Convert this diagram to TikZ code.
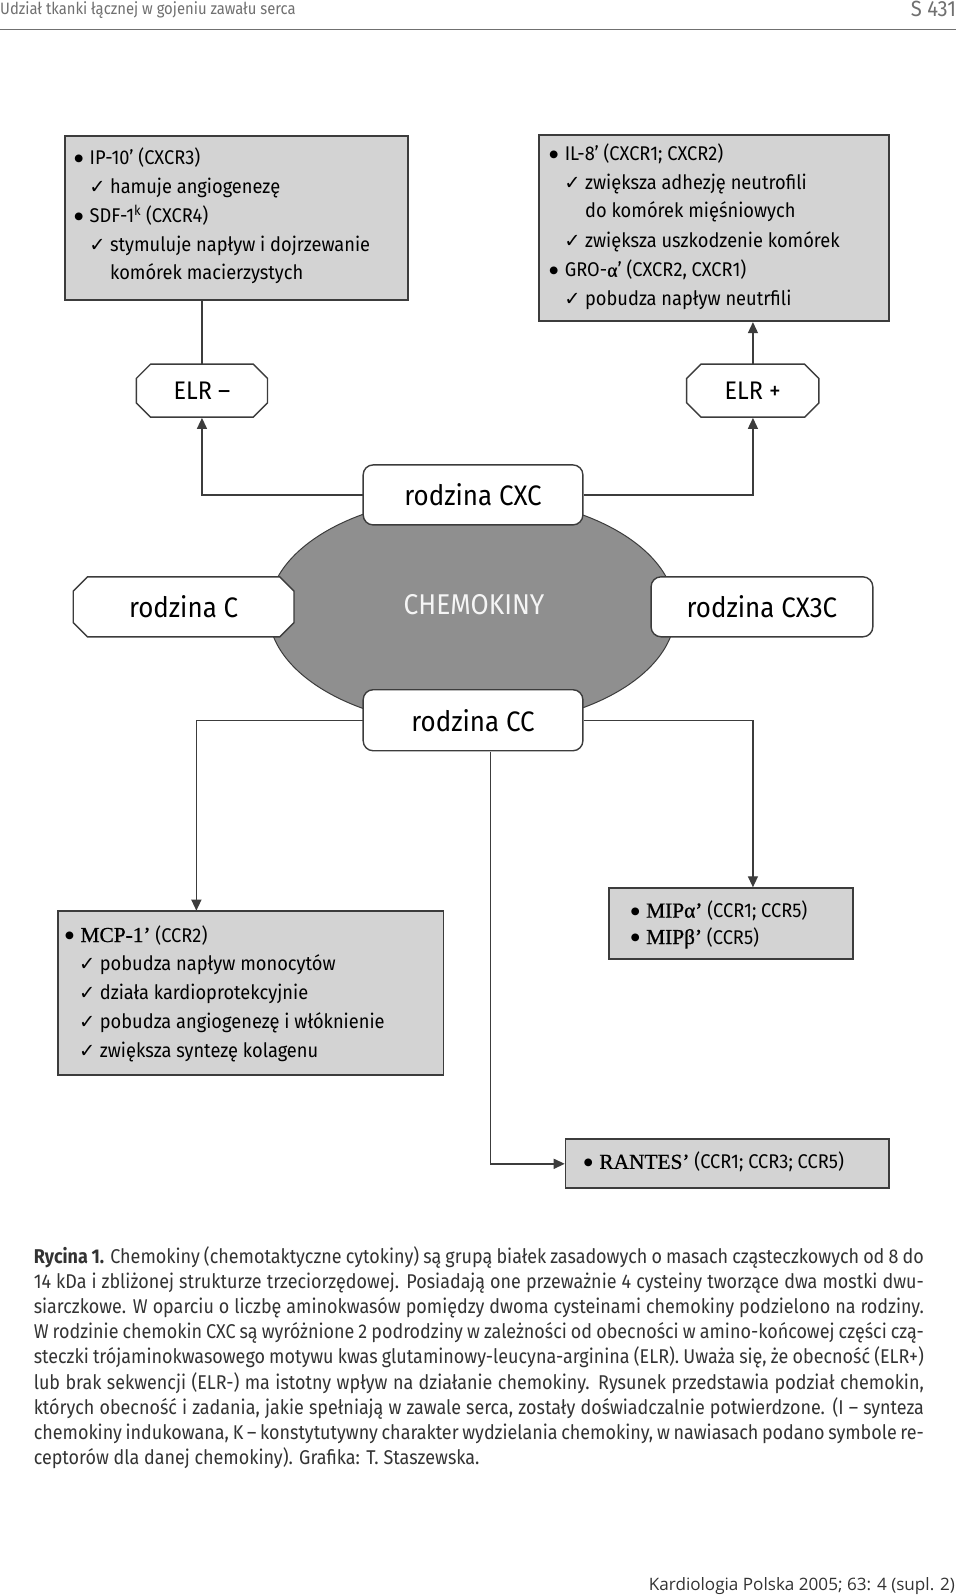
\documentclass[tikz,border=0pt]{standalone}
\usepackage{fontspec}
\setmainfont{Fira Sans}
\newfontfamily\boxf[FakeStretch=0.92]{Fira Sans}
\newfontfamily\capf[FakeStretch=0.9]{Fira Sans}
\newfontfamily\serf[FakeBold=0.8]{Liberation Serif}
\newfontfamily\symf{DejaVu Sans}
\newfontfamily\footf{Open Sans}
\usetikzlibrary{shapes.misc,shapes.geometric,arrows.meta}
\definecolor{boxgray}{HTML}{D3D3D3}
\definecolor{edgec}{HTML}{3C3C3C}
\definecolor{ellgray}{HTML}{8F8F8F}
\definecolor{hdrc}{HTML}{707070}
\definecolor{capc}{HTML}{333333}
\newcommand\sertxt[1]{{\serf\fontsize{21}{24}\selectfont #1}}
\newcommand\bitem[4]{%
  \node[txt,anchor=base east,font=\symf\fontsize{10}{12}\selectfont] (#1-b) at (#2-6,#3-3) {●};
  \node[txt] (#1) at (#2,#3) {#4};}
\newcommand\citem[4]{%
  \node[txt,anchor=base east,font=\symf\fontsize{19}{20}\selectfont] (#1-c) at (#2-4,#3) {✓};
  \node[txt] (#1) at (#2,#3) {#4};}
\newcommand\pitem[4]{\node[txt] (#1) at (#2,#3) {#4};}
\newcommand\capline[3]{\node[captxt] (#1) at (33,#2) {\makebox[875pt][s]{#3}};}
\begin{document}
\begin{tikzpicture}[x=1pt,y=-1pt,scale=1.01727,transform shape,
  txt/.style={anchor=base west,inner sep=0,font=\boxf\fontsize{19.5}{24}\selectfont,text=black},
  captxt/.style={anchor=base west,inner sep=0,font=\capf\fontsize{19.6}{22}\selectfont,text=capc},
  infobox/.style={draw=edgec,fill=boxgray,line width=1.6pt,inner sep=0,anchor=north west},
  famround/.style={draw=edgec,fill=white,line width=1.4pt,rounded corners=10pt,inner sep=0,
     font=\boxf\fontsize{27.7}{32}\selectfont},
  famcham/.style={chamfered rectangle,chamfered rectangle xsep=7pt,chamfered rectangle ysep=7pt,
     draw=edgec,fill=white,line width=1.4pt,inner sep=0,font=\boxf\fontsize{27.7}{32}\selectfont},
  conn/.style={draw=edgec,line width=1.4pt},
  arr/.style={conn,-{Triangle[length=11pt,width=10pt]}}]
\useasboundingbox (0,0) rectangle (943.7,1568.9);
\fill[white] (0,0) rectangle (943.7,1568.9);
% header
\node[anchor=base west,inner sep=0,text=hdrc,font=\capf\fontsize{16.2}{20}\selectfont] (hdr) at (0,14) {Udział tkanki łącznej w gojeniu zawału serca};
\node[anchor=base east,inner sep=0,text=hdrc,font=\boxf\fontsize{21.6}{24}\selectfont] (pg) at (940,16) {S 431};
\coordinate (rl) at (0,29); \coordinate (rr) at (940,29);
\draw[hdrc,line width=1.5pt] (rl) -- (rr);
% top boxes
\node[infobox,minimum width=337pt,minimum height=161pt] (tl) at (63,133) {};
\node[infobox,minimum width=344pt,minimum height=183pt] (tr) at (529,132) {};
\bitem{tl1}{88}{162}{IP-10’ (CXCR3)}
\citem{tl2}{108}{190}{hamuje angiogenezę}
\bitem{tl3}{88}{219}{SDF-1\textsuperscript{k} (CXCR4)}
\citem{tl4}{108}{247}{stymuluje napływ i dojrzewanie}
\pitem{tl5}{108}{275}{komórek macierzystych}
\bitem{tr1}{555}{158}{IL-8’ (CXCR1; CXCR2)}
\citem{tr2}{575}{186}{zwiększa adhezję neutrofili}
\pitem{tr3}{575}{214}{do komórek mięśniowych}
\citem{tr4}{575}{243}{zwiększa uszkodzenie komórek}
\bitem{tr5}{555}{272}{GRO-{\serf α}’ (CXCR2, CXCR1)}
\citem{tr6}{575}{300}{pobudza napływ neutrfili}
% ELR boxes
\node[famcham,minimum width=129pt,minimum height=52pt,font=\boxf\fontsize{25}{30}\selectfont] (elrm) at (198.5,384) {ELR –};
\node[famcham,minimum width=130pt,minimum height=52pt,font=\boxf\fontsize{25}{30}\selectfont] (elrp) at (740,384) {ELR +};
% ellipse
\node[ellipse,draw=edgec,fill=ellgray,line width=1pt,minimum width=400pt,minimum height=226pt,inner sep=0] (ell) at (464,601) {};
\node[inner sep=0,text=white!92!gray,font=\boxf\fontsize{28.1}{32}\selectfont] (chem) at (466,594) {CHEMOKINY};
% family boxes
\node[famround,minimum width=216pt,minimum height=59pt] (cxc) at (465,486.5) {rodzina CXC};
\node[famcham,minimum width=217pt,minimum height=59pt] (fc) at (180.5,596.5) {rodzina C};
\node[famround,minimum width=218pt,minimum height=59pt] (cx3c) at (749,596.5) {rodzina CX3C};
\node[famround,minimum width=216pt,minimum height=60pt] (cc) at (465,708) {rodzina CC};
% bottom boxes
\node[infobox,minimum width=379pt,minimum height=161pt] (mcp) at (56,895) {};
\node[infobox,minimum width=240pt,minimum height=70pt] (mip) at (598,872) {};
\node[infobox,minimum width=318pt,minimum height=48pt] (ran) at (555,1119) {};
\bitem{mc1}{79}{926}{\sertxt{MCP-1’} (CCR2)}
\citem{mc2}{98}{954}{pobudza napływ monocytów}
\citem{mc3}{98}{983}{działa kardioprotekcyjnie}
\citem{mc4}{98}{1011}{pobudza angiogenezę i włóknienie}
\citem{mc5}{98}{1040}{zwiększa syntezę kolagenu}
\bitem{mi1}{635}{902}{\sertxt{MIPα’} (CCR1; CCR5)}
\bitem{mi2}{635}{928}{\sertxt{MIPβ’} (CCR5)}
\bitem{ra1}{589}{1149}{\sertxt{RANTES’} (CCR1; CCR3; CCR5)}
% connectors
\coordinate (mcpin) at (193,0);
\coordinate (rin) at (482,0);
\draw[conn] (elrm.north) -- (elrm.north |- tl.south);
\draw[arr] (elrp.north) -- (elrp.north |- tr.south);
\draw[arr] (cxc.west) -| (elrm.south);
\draw[arr] (cxc.east) -| (elrp.south);
\draw[arr] (cc.west) -| (mcpin |- mcp.north);
\draw[arr] (cc.east) -| (elrp.south |- mip.north);
\draw[arr] (rin |- cc.south) |- (ran.west);
% caption
\capline{c1}{1242}{\textbf{Rycina 1.} Chemokiny (chemotaktyczne cytokiny) są grupą białek zasadowych o masach cząsteczkowych od 8 do}
\capline{c2}{1266.7}{14 kDa i zbliżonej strukturze trzeciorzędowej. Posiadają one przeważnie 4 cysteiny tworzące dwa mostki dwu-}
\capline{c3}{1291.4}{siarczkowe. W oparciu o liczbę aminokwasów pomiędzy dwoma cysteinami chemokiny podzielono na rodziny.}
\capline{c4}{1316.1}{W rodzinie chemokin CXC są wyróżnione 2 podrodziny w zależności od obecności w amino-końcowej części czą-}
\capline{c5}{1340.8}{steczki trójaminokwasowego motywu kwas glutaminowy-leucyna-arginina (ELR). Uważa się, że obecność (ELR+)}
\capline{c6}{1365.5}{lub brak sekwencji (ELR-) ma istotny wpływ na działanie chemokiny. Rysunek przedstawia podział chemokin,}
\capline{c7}{1390.2}{których obecność i zadania, jakie spełniają w zawale serca, zostały doświadczalnie potwierdzone. (I – synteza}
\capline{c8}{1414.9}{chemokiny indukowana, K – konstytutywny charakter wydzielania chemokiny, w nawiasach podano symbole re-}
\node[captxt] (c9) at (33,1439.6) {ceptorów dla danej chemokiny). Grafika: T. Staszewska.};
% footer
\node[anchor=base east,inner sep=0,text=capc,font=\footf\fontsize{16.8}{20}\selectfont] (foot) at (939,1563) {Kardiologia Polska 2005; 63: 4 (supl. 2)};
\end{tikzpicture}
\end{document}
